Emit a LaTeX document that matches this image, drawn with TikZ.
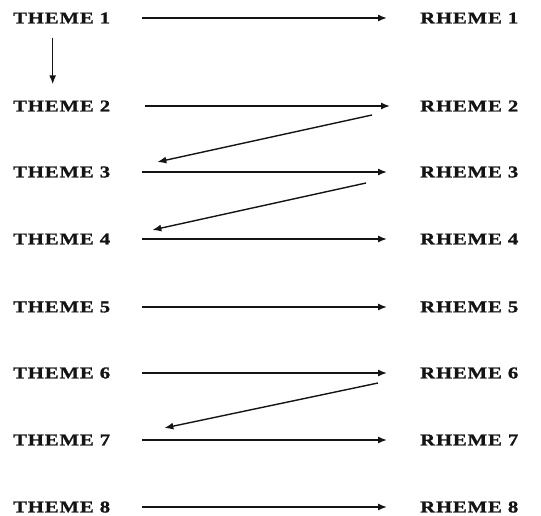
\documentclass[tikz,border=0pt]{standalone}
\usepackage{fontspec}
\usepackage{tikz}
\usetikzlibrary{arrows.meta,positioning}
\newfontfamily\lblfont[FakeStretch=1.25,LetterSpace=5,BoldFeatures={FakeBold=1.2}]{Liberation Serif}
\definecolor{ink}{HTML}{141414}
\tikzset{
  lbl/.style={inner sep=0pt,anchor=west,text=ink,font=\lblfont\fontsize{16.6}{18}\selectfont\bfseries},
  ar/.style={-{Latex[length=9pt,width=7pt]},line width=1.4pt,draw=ink},
  hr/.style={ar,shorten <=32pt,shorten >=33pt},
}
\begin{document}
\begin{tikzpicture}[x=1pt,y=-1pt]
\useasboundingbox (0,0) rectangle (541,516);
\node[lbl] (t1) at (13,18) {THEME 1};
\node[lbl] (t2) at (13,106) {THEME 2};
\node[lbl] (t3) at (13,172) {THEME 3};
\node[lbl] (t4) at (13,239) {THEME 4};
\node[lbl] (t5) at (13,307) {THEME 5};
\node[lbl] (t6) at (13,373) {THEME 6};
\node[lbl] (t7) at (13,440) {THEME 7};
\node[lbl] (t8) at (13,507) {THEME 8};
\node[lbl] (r1) at (420,18) {RHEME 1};
\node[lbl] (r2) at (420,106) {RHEME 2};
\node[lbl] (r3) at (420,172) {RHEME 3};
\node[lbl] (r4) at (420,239) {RHEME 4};
\node[lbl] (r5) at (420,307) {RHEME 5};
\node[lbl] (r6) at (420,373) {RHEME 6};
\node[lbl] (r7) at (420,440) {RHEME 7};
\node[lbl] (r8) at (420,507) {RHEME 8};
% theme to rheme
\draw[hr] (t1.east) -- (r1.west);
\draw[hr,shorten <=35pt,shorten >=30pt] (t2.east) -- (r2.west);
\draw[hr] (t3.east) -- (r3.west);
\draw[hr] (t4.east) -- (r4.west);
\draw[hr] (t5.east) -- (r5.west);
\draw[hr] (t6.east) -- (r6.west);
\draw[hr] (t7.east) -- (r7.west);
\draw[hr] (t8.east) -- (r8.west);
% constant theme
\draw[ar,shorten <=14pt,shorten >=16pt] ([xshift=-9pt]t1.south) -- ([xshift=-9pt]t2.north);
% rheme becomes next theme
\draw[ar] ([shift={(-48,9)}]r2.west) -- ([shift={(47,-10)}]t3.east);
\draw[ar] ([shift={(-54,11)}]r3.west) -- ([shift={(42,-9)}]t4.east);
\draw[ar] ([shift={(-42,10)}]r6.west) -- ([shift={(54,-12)}]t7.east);
\end{tikzpicture}
\end{document}
